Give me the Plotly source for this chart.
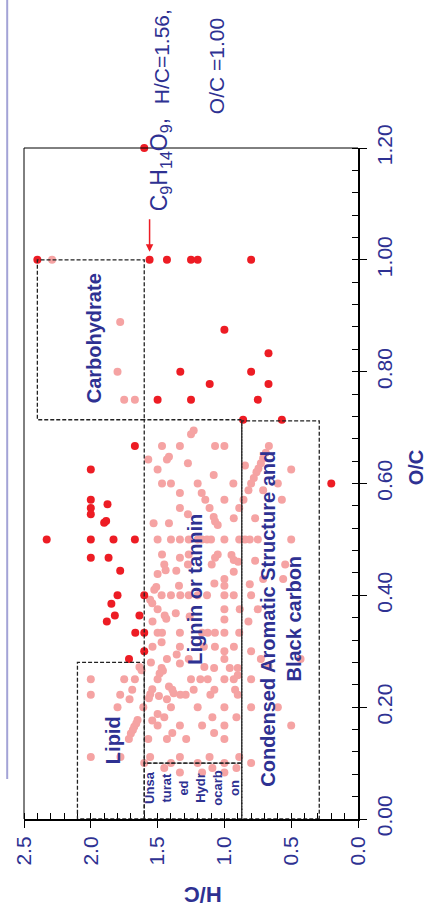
import plotly.graph_objects as go

FONT = "Liberation Sans, Arial, sans-serif"
NAVY = "#2e3192"
RED = "#ed1c24"
PINK = "#f5a3a3"

# Highlighted formulas (dark red)
red_hc = [1.60, 2.40, 1.56, 1.43, 1.25, 1.20, 0.80,
          1.00, 0.67, 1.33, 0.80, 1.11, 0.67,
          1.50, 1.25, 0.75, 0.86, 0.57,
          1.67, 2.00, 2.00, 1.875, 2.00, 2.00,
          1.90, 1.885, 2.33, 2.00, 1.83, 1.67,
          2.00, 1.867, 1.78, 0.20,
          1.80, 1.60, 1.846, 1.82, 1.636, 1.88,
          1.667, 1.60, 1.60, 1.714]
red_oc = [1.20, 1.00, 1.00, 1.00, 1.00, 1.00, 1.00,
          0.875, 0.833, 0.80, 0.80, 0.778, 0.778,
          0.75, 0.75, 0.75, 0.714, 0.714,
          0.667, 0.625, 0.571, 0.563, 0.556, 0.545,
          0.53, 0.533, 0.50, 0.50, 0.50, 0.50,
          0.467, 0.467, 0.444, 0.60,
          0.40, 0.40, 0.385, 0.364, 0.364, 0.353,
          0.333, 0.333, 0.30, 0.286]

# All other assigned formulas (light pink)
pink_hc = [2.29, 1.78, 1.80, 1.75, 1.67, 1.25, 1.23, 1.467, 1.333, 1.07,
           1.00, 0.667, 1.57, 1.43, 1.415, 1.273, 1.50, 1.08, 0.846, 0.69,
           0.71, 0.727, 0.745, 0.76, 0.78, 0.80, 0.82, 0.50, 1.467, 1.40,
           1.20, 0.933, 0.60, 1.333, 1.17, 1.143, 1.00, 0.857, 0.71, 0.57,
           1.333, 1.273, 1.111, 0.889, 1.08, 1.07, 1.05, 0.93, 0.77, 1.53,
           1.415, 1.50, 1.40, 1.333, 1.267, 1.20, 1.167, 1.13, 1.10, 1.00,
           0.889, 0.846, 0.81, 0.75, 0.50, 1.467, 1.333, 1.267, 1.05, 1.07,
           0.947, 0.93, 0.77, 0.545, 1.45, 1.273, 1.095, 0.897, 1.44, 1.36,
           1.50, 1.00, 0.93, 0.81, 0.56, 0.71, 1.34, 1.51, 1.525, 1.075,
           1.00, 1.47, 1.40, 1.33, 1.267, 1.20, 1.13, 1.00, 0.93, 0.80,
           1.556, 1.54, 1.50, 1.364, 1.447, 1.435, 1.26, 1.00, 0.885, 0.75,
           0.82, 1.538, 1.00, 1.50, 1.467, 1.333, 1.167, 1.125, 1.071, 1.00,
           0.889, 1.538, 1.47, 1.333, 1.154, 1.071, 0.929, 0.80, 1.00, 1.357,
           1.00, 1.43, 1.267, 1.47, 1.46, 1.485, 1.55, 1.636, 1.62, 1.333,
           1.15, 1.077, 0.96, 0.90, 0.90, 0.727, 0.67, 0.43, 1.18, 1.125,
           1.25, 1.00, 0.93, 1.50, 0.80, 2.00, 1.75, 1.67, 1.69, 1.415,
           1.39, 1.23, 1.54, 1.78, 2.00, 1.555, 1.565, 1.33, 1.105, 1.075,
           0.92, 0.90, 1.71, 1.49, 1.38, 1.29, 1.43, 1.80, 1.607, 1.40,
           1.20, 1.00, 0.80, 0.60, 1.65, 1.66, 1.675, 1.685, 1.70, 1.715,
           2.00, 1.778, 1.50, 1.45, 1.54, 1.50, 1.09, 0.91, 1.333, 1.167,
           1.00, 0.50, 1.39, 1.077, 1.57, 1.43, 1.286, 1.00, 1.556, 1.333,
           1.111, 0.889, 1.60, 1.40, 1.20, 1.00, 0.80, 1.45, 1.333, 1.167,
           1.09, 1.00, 0.91]
pink_oc = [1.00, 0.889, 0.80, 0.75, 0.75, 0.688, 0.695, 0.667, 0.667, 0.667,
           0.667, 0.667, 0.643, 0.643, 0.648, 0.636, 0.625, 0.615, 0.632, 0.655,
           0.645, 0.636, 0.627, 0.62, 0.61, 0.60, 0.588, 0.625, 0.60, 0.60,
           0.60, 0.60, 0.60, 0.583, 0.583, 0.571, 0.571, 0.571, 0.588, 0.571,
           0.556, 0.545, 0.556, 0.556, 0.54, 0.532, 0.526, 0.538, 0.538, 0.529,
           0.529, 0.50, 0.50, 0.50, 0.50, 0.50, 0.50, 0.50, 0.50, 0.50,
           0.50, 0.50, 0.50, 0.50, 0.50, 0.473, 0.467, 0.473, 0.473, 0.467,
           0.472, 0.463, 0.462, 0.455, 0.455, 0.455, 0.455, 0.46, 0.445, 0.444,
           0.438, 0.429, 0.442, 0.42, 0.429, 0.429, 0.417, 0.415, 0.41, 0.421,
           0.417, 0.40, 0.40, 0.40, 0.40, 0.40, 0.40, 0.40, 0.40, 0.40,
           0.392, 0.386, 0.375, 0.368, 0.364, 0.358, 0.362, 0.375, 0.375, 0.375,
           0.353, 0.353, 0.357, 0.333, 0.333, 0.333, 0.333, 0.333, 0.333, 0.333,
           0.333, 0.308, 0.316, 0.308, 0.308, 0.308, 0.308, 0.30, 0.30, 0.294,
           0.286, 0.286, 0.286, 0.27, 0.265, 0.26, 0.28, 0.272, 0.266, 0.278,
           0.272, 0.27, 0.27, 0.27, 0.257, 0.286, 0.273, 0.286, 0.25, 0.25,
           0.25, 0.25, 0.25, 0.25, 0.25, 0.25, 0.25, 0.25, 0.231, 0.237,
           0.231, 0.231, 0.232, 0.222, 0.222, 0.223, 0.216, 0.222, 0.222, 0.231,
           0.231, 0.222, 0.214, 0.22, 0.225, 0.222, 0.214, 0.20, 0.20, 0.20,
           0.20, 0.20, 0.20, 0.20, 0.177, 0.171, 0.165, 0.159, 0.153, 0.143,
           0.111, 0.111, 0.188, 0.182, 0.176, 0.167, 0.182, 0.182, 0.167, 0.167,
           0.167, 0.167, 0.154, 0.154, 0.143, 0.143, 0.143, 0.143, 0.111, 0.111,
           0.111, 0.111, 0.10, 0.10, 0.10, 0.10, 0.10, 0.091, 0.083, 0.083,
           0.091, 0.083, 0.091]

# Compound-class boundaries (H/C and O/C limits)
region_names = ["Carbohydrate", "Lipid", "Lignin or tannin",
                "Unsaturated hydrocarbon", "Condensed aromatic"]
region_hc_lo = [1.60, 1.60, 0.87, 0.87, 0.29]
region_hc_hi = [2.40, 2.10, 1.60, 1.60, 0.87]
region_oc_lo = [0.714, 0.00, 0.10, 0.00, 0.00]
region_oc_hi = [1.00, 0.28, 0.714, 0.10, 0.712]

# Annotated compound
hl_formula = "C<sub>9</sub>H<sub>14</sub>O<sub>9</sub>,"
hl_hc = 1.56
hl_oc = 1.00

hc_ticks = [2.5, 2.0, 1.5, 1.0, 0.5, 0.0]
oc_ticks = [0.0, 0.2, 0.4, 0.6, 0.8, 1.0, 1.2]

fig = go.Figure()
fig.add_trace(go.Scatter(x=pink_hc, y=pink_oc, mode="markers", cliponaxis=False,
                         marker=dict(size=8, color=PINK, line=dict(width=0)),
                         hoverinfo="skip"))
fig.add_trace(go.Scatter(x=red_hc, y=red_oc, mode="markers", cliponaxis=False,
                         marker=dict(size=8, color=RED, line=dict(width=0)),
                         hoverinfo="skip"))

shapes = []
for lo_x, hi_x, lo_y, hi_y in zip(region_hc_lo, region_hc_hi, region_oc_lo, region_oc_hi):
    shapes.append(dict(type="rect", xref="x", yref="y", x0=lo_x, x1=hi_x, y0=lo_y, y1=hi_y,
                       line=dict(color="#222222", width=1.3, dash="4px,2px"),
                       fillcolor="rgba(0,0,0,0)", layer="above"))
# frame top and left
shapes.append(dict(type="line", xref="paper", yref="paper", x0=0, x1=1, y0=1, y1=1,
                   line=dict(color="black", width=1)))
shapes.append(dict(type="line", xref="paper", yref="paper", x0=0, x1=0, y0=0, y1=1,
                   line=dict(color="black", width=1)))
# slide rule on the left edge
shapes.append(dict(type="line", xref="paper", yref="paper", x0=-0.0503, x1=-0.0503,
                   y0=0.0596, y1=1.2206, line=dict(color="#a3a3d6", width=2)))

def label(text, x, y, size, xref="x", yref="y", angle=-90, color=NAVY):
    return dict(text=text, x=x, y=y, xref=xref, yref=yref, showarrow=False,
                textangle=angle, xanchor="center", yanchor="middle",
                font=dict(family=FONT, size=size, color=color))

annotations = [
    label("<b>Carbohydrate</b>", 1.975, 0.86, 20),
    label("<b>Lipid</b>", 1.834, 0.141, 20),
    label("<b>Lignin or tannin</b>", 1.22, 0.41, 20),
    label("<b>Condensed Aromatic Structure and<br>Black carbon</b>", 0.573, 0.359, 20),
    label("<b>Unsa<br>turat<br>ed<br>Hydr<br>ocarb<br>on</b>", 1.239, 0.055, 13),
    label(hl_formula, 0.411, 0.9747, 23, xref="paper", yref="paper"),
    label(f"H/C={hl_hc:.2f},", 0.411, 1.1356, 21, xref="paper", yref="paper"),
    label(f"O/C ={hl_oc:.2f}", 0.5754, 1.1222, 21, xref="paper", yref="paper"),
    label("<b>O/C</b>", 1.1746, 0.5246, 20, xref="paper", yref="paper"),
    label("<b>H/C</b>", 0.5355, -0.1133, 22, xref="paper", yref="paper", angle=180),
    dict(x=hl_hc, y=hl_oc, xref="x", yref="y", text="", showarrow=True,
         ax=0, ay=-42, standoff=8, arrowhead=2, arrowsize=1, arrowwidth=1.5,
         arrowcolor=RED),
]

fig.update_xaxes(range=[2.5, 0], autorange=False, tickvals=hc_ticks,
                 ticktext=[f"{v:.1f}" for v in hc_ticks],
                 ticks="outside", ticklen=7, tickwidth=1, tickcolor="black",
                 showline=True, linewidth=2, linecolor="black",
                 showgrid=False, zeroline=False, tickangle=-90,
                 tickfont=dict(family=FONT, size=21, color=NAVY),
                 minor=dict(dtick=0.1, tick0=0, ticks="inside", ticklen=6,
                            tickwidth=1, tickcolor="black", showgrid=False))
fig.update_yaxes(range=[0, 1.2], autorange=False, side="right", tickvals=oc_ticks,
                 ticktext=[f"{v:.2f}" for v in oc_ticks],
                 ticks="outside", ticklen=7, tickwidth=1, tickcolor="black",
                 showline=True, linewidth=2, linecolor="black",
                 showgrid=False, zeroline=False, tickangle=-90,
                 tickfont=dict(family=FONT, size=21, color=NAVY),
                 minor=dict(dtick=0.04, tick0=0, ticks="inside", ticklen=6,
                            tickwidth=1, tickcolor="black", showgrid=False))

fig.update_layout(width=430, height=919, autosize=False,
                  margin=dict(l=20, r=72, t=148, b=100),
                  paper_bgcolor="white", plot_bgcolor="white",
                  showlegend=False, shapes=shapes, annotations=annotations,
                  font=dict(family=FONT, color=NAVY))

fig.write_html("out.html", config={"displayModeBar": False})
